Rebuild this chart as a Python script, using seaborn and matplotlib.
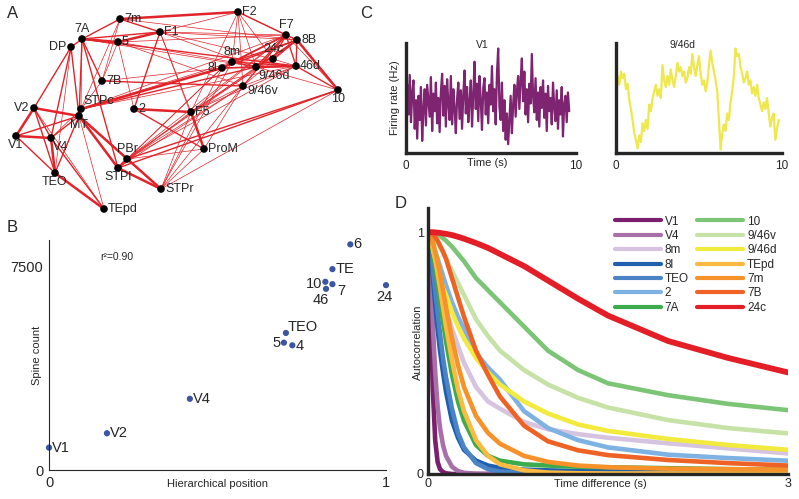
import numpy as np
import pandas as pd
import matplotlib
matplotlib.use('Agg')
import matplotlib.pyplot as plt
import seaborn as sns

sns.set_style('white')
plt.rcParams['font.family'] = ['Liberation Sans', 'DejaVu Sans']

W, H = 799, 499

# ---------------- Panel A: network (node layout in pixel space)
NODES = {
    '7m': (120, 19), 'F2': (238, 12), '7A': (82, 39), 'DP': (71, 47), '5': (118, 42),
    'F1': (160, 32), 'F7': (286, 35), '8B': (297, 40), '8m': (232, 62), '24c': (273, 59),
    '8l': (222, 68), '9/46d': (256, 67), '46d': (296, 66), '7B': (102, 81),
    '9/46v': (243, 86), '10': (338, 90), 'STPc': (81, 109), 'MT': (79, 116),
    '2': (134, 109), 'F5': (191, 112), 'V2': (34, 108), 'V1': (16, 136), 'V4': (51, 138),
    'PBr': (127, 159), 'ProM': (204, 149), 'STPl': (118, 168), 'TEO': (55, 173),
    'STPr': (161, 189), 'TEpd': (104, 209),
}
LABEL_POS = {
    '7m': 'r', 'F2': 'r', '7A': 'a', 'DP': 'l', '5': 'r', 'F1': 'r', 'F7': 'a', '8B': 'r',
    '8m': 'a', '24c': 'a', '8l': 'l', '9/46d': 'br', '46d': 'r', '7B': 'r', '9/46v': 'rb',
    '10': 'b', 'STPc': 'ar', 'MT': 'b', '2': 'r', 'F5': 'r', 'V2': 'l', 'V1': 'b',
    'V4': 'br', 'PBr': 'a', 'ProM': 'r', 'STPl': 'b', 'TEO': 'b', 'STPr': 'r', 'TEpd': 'r',
}
EDGES = [
    ('V1', 'V2', 3), ('V1', 'V4', 3), ('V1', 'TEO', 2), ('V1', 'MT', 2), ('V2', 'V4', 2),
    ('V2', 'MT', 3), ('V2', 'DP', 2), ('V2', 'TEO', 2), ('V2', 'TEpd', 1),
    ('V4', 'MT', 2), ('V4', 'DP', 2), ('V4', 'TEO', 3), ('V4', 'STPc', 1), ('V4', 'TEpd', 2),
    ('TEO', 'TEpd', 3), ('TEO', 'MT', 2), ('TEO', 'DP', 1),
    ('MT', 'TEpd', 1), ('MT', 'STPl', 3), ('MT', 'STPr', 3), ('MT', 'PBr', 2), ('MT', 'DP', 2),
    ('MT', '7A', 2), ('MT', 'STPc', 2),
    ('DP', '7A', 2), ('7A', '7m', 2), ('7A', '5', 3), ('7A', 'F1', 2), ('7A', '7B', 2),
    ('7A', 'STPc', 1), ('7A', 'STPl', 2), ('7A', '46d', 2), ('7A', '9/46d', 1),
    ('7m', 'F2', 3), ('7m', 'F1', 2), ('7m', '8B', 1), ('7m', '7B', 1), ('7m', 'STPc', 1),
    ('5', 'F1', 3), ('5', '2', 1), ('5', '7B', 1), ('5', '8m', 1), ('5', 'F7', 1), ('5', '9/46v', 1),
    ('F1', 'F2', 1), ('F1', '8B', 1), ('F1', 'F7', 1), ('F1', '2', 2), ('F1', 'F5', 1),
    ('F1', '24c', 1), ('F1', '9/46d', 1), ('F1', 'ProM', 1),
    ('F2', 'F7', 2), ('F2', '8B', 1), ('F2', '8m', 1), ('F2', '9/46d', 1), ('F2', '24c', 1),
    ('F2', 'F5', 1), ('F2', '9/46v', 1),
    ('7B', '9/46v', 2), ('7B', 'STPc', 1), ('7B', '8l', 1),
    ('STPc', '8l', 3), ('STPc', '9/46d', 2), ('STPc', '8m', 1), ('STPc', '46d', 1), ('STPc', 'F7', 1),
    ('2', 'F5', 3), ('2', 'ProM', 2),
    ('F5', 'ProM', 3), ('F5', '9/46v', 1), ('F5', 'F7', 1), ('F5', '24c', 1), ('F5', '8B', 1),
    ('F5', '46d', 1),
    ('8l', '8m', 2), ('8l', '9/46d', 2), ('8l', 'F7', 2), ('8l', '8B', 2), ('8l', '46d', 2),
    ('8l', 'PBr', 1), ('8l', 'STPl', 1),
    ('8m', 'F7', 2), ('8m', '8B', 2), ('8m', '24c', 1), ('8m', '46d', 2), ('8m', '9/46d', 2),
    ('8m', 'STPr', 1),
    ('9/46d', 'F7', 2), ('9/46d', '8B', 2), ('9/46d', '46d', 3), ('9/46d', '24c', 1),
    ('9/46d', '10', 1), ('9/46d', 'PBr', 1),
    ('24c', 'F7', 2), ('24c', '8B', 2), ('24c', '46d', 1),
    ('46d', '8B', 2), ('46d', 'F7', 2), ('46d', '10', 2), ('46d', '9/46v', 1),
    ('8B', '10', 3), ('F7', '10', 1), ('8B', 'F7', 2),
    ('9/46v', 'F7', 2), ('9/46v', '8B', 1), ('9/46v', 'PBr', 1), ('9/46v', 'STPr', 1),
    ('9/46v', 'ProM', 1),
    ('10', 'PBr', 2), ('10', 'STPl', 2), ('10', 'STPr', 1),
    ('PBr', 'STPl', 3), ('PBr', 'STPr', 2), ('PBr', '46d', 1), ('PBr', '8B', 1), ('PBr', 'F7', 1),
    ('PBr', 'ProM', 1),
    ('STPl', 'STPr', 3), ('STPl', '9/46v', 1), ('STPl', 'F5', 1),
    ('STPr', 'ProM', 1), ('STPr', 'F5', 1), ('STPr', '8l', 1),
]

# ---------------- Panel B: spine count vs hierarchy
b_areas = ['V1', 'V2', 'V4', '5', '4', 'TEO', '46', '10', '7', 'TE', '6', '24']
b_hier = [0.0, 0.172, 0.418, 0.697, 0.722, 0.703, 0.822, 0.820, 0.841, 0.841, 0.894, 1.0]
b_spines = [824, 1352, 2619, 4684, 4586, 5041, 6664, 6922, 6836, 7389, 8299, 6799]

# ---------------- Panel C: firing-rate traces (normalised)
v1_rate = [0.45, 0.62, 0.35, 0.71, 0.28, 0.55, 0.66, 0.22, 0.48, 0.13, 0.52, 0.30, 0.60, 0.11,
           0.40, 0.58, 0.25, 0.62, 0.47, 0.33, 0.69, 0.20, 0.54, 0.38, 0.64, 0.27, 0.50, 0.19,
           0.56, 0.72, 0.34, 0.61, 0.24, 0.67, 0.45, 0.30, 0.70, 0.26, 0.58, 0.41, 0.18,
           0.49, 0.64, 0.31, 0.57, 0.22, 0.53, 0.75, 0.36, 0.60, 0.28, 0.46, 0.66, 0.24, 0.52,
           0.83, 0.40, 0.63, 0.29, 0.70, 0.48, 0.21, 0.59, 0.68, 0.35, 0.55, 0.27, 0.62, 0.44,
           0.79, 0.38, 0.58, 0.26, 0.72, 0.95, 0.42, 0.30, 0.64, 0.20, 0.48, 0.12, 0.36, 0.08,
           0.30, 0.52, 0.18, 0.44, 0.62, 0.33, 0.56, 0.70, 0.40, 0.66, 0.86, 0.47, 0.74, 0.35,
           0.58, 0.28, 0.63, 0.45, 0.90, 0.52, 0.37, 0.68, 0.30, 0.55, 0.24, 0.60, 0.41, 0.66,
           0.32, 0.54, 0.20, 0.61, 0.38, 0.50, 0.26, 0.64, 0.42, 0.29, 0.57, 0.22, 0.48, 0.35,
           0.60, 0.15, 0.44, 0.52, 0.28, 0.55, 0.38]
d946_rate = [0.60, 0.70, 0.62, 0.74, 0.68, 0.72, 0.58, 0.63, 0.48, 0.40,
             0.30, 0.18, 0.12, 0.04, 0.16, 0.10, 0.27, 0.20, 0.30, 0.22,
             0.44, 0.38, 0.50, 0.56, 0.62, 0.52, 0.58, 0.50, 0.80, 0.66,
             0.60, 0.70, 0.62, 0.76, 0.66, 0.60, 0.70, 0.82, 0.74, 0.78,
             0.70, 0.74, 0.64, 0.68, 0.78, 0.72, 0.90, 0.78, 0.70, 0.80,
             0.88, 0.72, 0.62, 0.66, 0.56, 0.64, 0.80, 0.93, 0.82, 0.74,
             0.66, 0.56, 0.30, 0.03, 0.18, 0.26, 0.20, 0.36, 0.30, 0.46,
             0.56, 0.70, 0.95, 0.88, 0.90, 0.78, 0.72, 0.64, 0.68, 0.74,
             0.62, 0.66, 0.54, 0.60, 0.52, 0.62, 0.50, 0.44, 0.38, 0.46,
             0.40, 0.50, 0.36, 0.24, 0.32, 0.36, 0.12, 0.22, 0.30]

# ---------------- Panel D: autocorrelation per area
t_grid = [0, 0.02, 0.04, 0.06, 0.08, 0.1, 0.125, 0.15, 0.2, 0.25, 0.3, 0.4, 0.5, 0.6,
          0.8, 1.0, 1.25, 1.5, 2.0, 2.5, 3.0]
ac_areas = ['V1', 'V4', '8m', '8l', 'TEO', '2', '7A', '10', '9/46v', '9/46d', 'TEpd', '7m', '7B', '24c']
ac_values = {
    'V1': [1, 0.75, 0.35, 0.14, 0.05, 0.02, 0.008, 0.003, 0, 0, 0, 0, 0, 0, 0, 0, 0, 0, 0, 0, 0],
    'V4': [1, 0.9, 0.62, 0.42, 0.28, 0.19, 0.12, 0.075, 0.03, 0.012, 0.005, 0.001, 0, 0, 0, 0, 0, 0, 0, 0, 0],
    '8m': [1, 0.96, 0.91, 0.86, 0.81, 0.77, 0.72, 0.68, 0.6, 0.53, 0.46, 0.36, 0.3, 0.27, 0.215, 0.185,
           0.165, 0.15, 0.127, 0.106, 0.085],
    '8l': [1, 0.93, 0.82, 0.7, 0.6, 0.51, 0.42, 0.34, 0.22, 0.15, 0.1, 0.055, 0.035, 0.025, 0.018, 0.015,
           0.012, 0.011, 0.01, 0.009, 0.008],
    'TEO': [1, 0.94, 0.85, 0.76, 0.67, 0.58, 0.48, 0.4, 0.27, 0.17, 0.11, 0.045, 0.02, 0.01, 0.004, 0.002,
            0.002, 0.002, 0.002, 0.002, 0.002],
    '2': [1, 0.98, 0.95, 0.92, 0.89, 0.86, 0.82, 0.78, 0.71, 0.65, 0.6, 0.5, 0.44, 0.39, 0.26, 0.19,
          0.14, 0.11, 0.08, 0.066, 0.055],
    '7A': [1, 0.97, 0.92, 0.86, 0.79, 0.72, 0.63, 0.55, 0.41, 0.3, 0.22, 0.12, 0.075, 0.055, 0.04, 0.035,
           0.03, 0.028, 0.024, 0.02, 0.018],
    '10': [1, 1.0, 0.998, 0.995, 0.99, 0.985, 0.975, 0.965, 0.94, 0.91, 0.88, 0.81, 0.76, 0.71, 0.61, 0.51,
           0.43, 0.375, 0.326, 0.29, 0.264],
    '9/46v': [1, 0.995, 0.985, 0.97, 0.955, 0.94, 0.915, 0.89, 0.84, 0.79, 0.74, 0.64, 0.57, 0.51, 0.43,
              0.37, 0.315, 0.275, 0.223, 0.19, 0.168],
    '9/46d': [1, 0.97, 0.93, 0.89, 0.85, 0.81, 0.77, 0.74, 0.67, 0.61, 0.56, 0.48, 0.42, 0.37, 0.3, 0.25,
              0.205, 0.178, 0.145, 0.12, 0.1],
    'TEpd': [1, 0.98, 0.94, 0.89, 0.83, 0.77, 0.69, 0.61, 0.47, 0.35, 0.26, 0.14, 0.075, 0.04, 0.015, 0.006,
             0.003, 0.002, 0.002, 0.002, 0.002],
    '7m': [1, 0.99, 0.96, 0.92, 0.88, 0.83, 0.76, 0.69, 0.56, 0.45, 0.36, 0.24, 0.17, 0.125, 0.075, 0.05,
           0.035, 0.028, 0.022, 0.02, 0.018],
    '7B': [1, 1.0, 0.99, 0.98, 0.965, 0.945, 0.92, 0.89, 0.81, 0.73, 0.65, 0.51, 0.41, 0.32, 0.2, 0.135,
           0.098, 0.078, 0.058, 0.045, 0.035],
    '24c': [1, 1.0, 1.0, 0.999, 0.998, 0.997, 0.995, 0.993, 0.988, 0.981, 0.973, 0.955, 0.935, 0.91, 0.86,
            0.8, 0.725, 0.655, 0.55, 0.48, 0.42],
}
ac_colors = {
    'V1': '#7B1F6E', 'V4': '#A870A8', '8m': '#D6C3E0', '8l': '#1F5FAD', 'TEO': '#4A84C6',
    '2': '#7EB2E2', '7A': '#3CAB4B', '10': '#7CC576', '9/46v': '#C6E2A6', '9/46d': '#F2EA3D',
    'TEpd': '#FBBA42', '7m': '#F7922A', '7B': '#EE6325', '24c': '#E41E26',
}

fig = plt.figure(figsize=(W / 100, H / 100), dpi=100)


def px_axes(x0, y0, x1, y1):
    # axes box given in pixel coords (top-left origin)
    return fig.add_axes([x0 / W, 1 - y1 / H, (x1 - x0) / W, (y1 - y0) / H])


# ---- A
ax = px_axes(0, 0, 400, 230)
ax.set_xlim(0, 400)
ax.set_ylim(230, 0)
ax.axis('off')
widths = {1: 0.5, 2: 1.0, 3: 1.8}
for a, b, w in EDGES:
    (x0, y0), (x1, y1) = NODES[a], NODES[b]
    ax.plot([x0, x1], [y0, y1], color='#E2242A', lw=widths[w], solid_capstyle='round', zorder=1)
node_df = pd.DataFrame([(k, v[0], v[1]) for k, v in NODES.items()], columns=['area', 'x', 'y'])
sns.scatterplot(data=node_df, x='x', y='y', color='black', s=30, edgecolor='none', ax=ax, zorder=3)
ax.set_xlabel('')
ax.set_ylabel('')
place = {'r': (4, 0, 'left', 'center'), 'l': (-5, 0, 'right', 'center'),
         'a': (0, -4, 'center', 'bottom'), 'b': (0, 3, 'center', 'top'),
         'br': (2, 3, 'left', 'top'), 'ar': (2, -2, 'left', 'bottom'),
         'rb': (4, 5, 'left', 'center')}
for name, (x, y) in NODES.items():
    dx, dy, ha, va = place[LABEL_POS[name]]
    ax.text(x + dx, y + dy, name, ha=ha, va=va, fontsize=9, zorder=4)

# ---- B
ax = px_axes(49, 240, 386, 470)
sns.scatterplot(x=b_hier, y=b_spines, color='#3A55A4', s=20, edgecolor='none', ax=ax, clip_on=False)
ax.set_xlim(0, 1)
ax.set_ylim(0, 8460)
sns.despine(ax=ax)
for s in ['left', 'bottom']:
    ax.spines[s].set_linewidth(0.8)
ax.set_xticks([0, 0.2, 0.4, 0.6, 0.8, 1.0])
ax.set_xticklabels(['0', '', '', '', '', '1'])
ax.set_yticks([0, 2500, 5000, 7500])
ax.set_yticklabels(['0', '', '', '7500'])
ax.tick_params(direction='in', length=3, width=0.8, labelsize=10.5, pad=4)
ax.text(0.5, -0.062, 'Hierarchical position', transform=ax.transAxes, fontsize=8,
        ha='center', va='center')
ax.text(-0.036, 0.5, 'Spine count', transform=ax.transAxes, fontsize=8, rotation=90,
        ha='center', va='center')
offsets = {'V1': (3, 0, 'left'), 'V2': (3, 0, 'left'), 'V4': (3, 0, 'left'), '5': (-3, 0, 'right'),
           '4': (3, -1, 'left'), 'TEO': (2, 6, 'left'), '46': (-5, -11, 'center'), '10': (-3, -2, 'right'),
           '7': (9, -7, 'center'), 'TE': (3, 0, 'left'), '6': (3, 0, 'left'), '24': (-2, -12, 'center')}
for name, x, y in zip(b_areas, b_hier, b_spines):
    dx, dy, ha = offsets[name]
    ax.annotate(name, (x, y), xytext=(dx, dy), textcoords='offset pixels', ha=ha, va='center',
                fontsize=10.5)
ax.text(0.151, 0.926, 'r²=0.90', transform=ax.transAxes, fontsize=7.5, ha='left', va='center')

# ---- C
for (x0, x1), rate, col, title, tx in [((406, 576), v1_rate, '#7E2471', 'V1', 0.447),
                                         ((616, 782), d946_rate, '#EEE84C', '9/46d', 0.40)]:
    ax = px_axes(x0, 43, x1, 153)
    t = np.linspace(0, 9.6 if title == 'V1' else 9.8, len(rate))
    sns.lineplot(x=t, y=rate, color=col, lw=1.6, ax=ax, estimator=None, sort=False)
    ax.set_xlim(0, 10)
    ax.set_ylim(0, 1)
    sns.despine(ax=ax)
    for s in ['left', 'bottom']:
        ax.spines[s].set_linewidth(2.4)
    ax.set_xticks([0, 10])
    ax.set_xticklabels(['0', '10'])
    ax.set_yticks([])
    ax.tick_params(length=0, labelsize=8.5, pad=5)
    ax.text(tx, 0.98, title, transform=ax.transAxes, fontsize=7.5, ha='center', va='center')
    if title == 'V1':
        ax.text(0.48, -0.09, 'Time (s)', transform=ax.transAxes, fontsize=8, ha='center', va='center')
        ax.text(-0.065, 0.5, 'Firing rate (Hz)', transform=ax.transAxes, fontsize=8,
                rotation=90, ha='center', va='center')

# ---- D
ax = px_axes(428, 208, 788, 474)
for area in ac_areas:
    sns.lineplot(x=t_grid, y=ac_values[area], color=ac_colors[area], ax=ax,
                 lw=4.2 if area == '24c' else 3.3, label=area, estimator=None, sort=False)
ax.set_xlim(0, 3)
ax.set_ylim(0, 1.1)
sns.despine(ax=ax)
for s in ['left', 'bottom']:
    ax.spines[s].set_linewidth(2.4)
    ax.spines[s].set_zorder(5)
ax.set_xticks([0, 3])
ax.set_xticklabels(['0', '3'])
ax.set_yticks([0, 1])
ax.set_yticklabels(['0', '1'])
ax.tick_params(direction='in', length=4, width=1.5, labelsize=9, pad=3)
ax.text(0.478, -0.038, 'Time difference (s)', transform=ax.transAxes, fontsize=8, ha='center', va='center')
ax.text(-0.028, 0.496, 'Autocorrelation', transform=ax.transAxes, fontsize=8, rotation=90,
        ha='center', va='center')
leg = ax.legend(ncol=2, frameon=False, fontsize=8.5, handlelength=3.9, handletextpad=0.35,
                columnspacing=0.7, labelspacing=0.2, loc='upper left',
                bbox_to_anchor=(604 / W, 1 - 205 / H), bbox_transform=fig.transFigure)
for ln in leg.get_lines():
    ln.set_linewidth(3.0)

# ---- panel letters
for letter, (x, y) in {'A': (13, 14), 'B': (12, 228), 'C': (366, 14), 'D': (401, 204)}.items():
    fig.text(x / W, 1 - y / H, letter, fontsize=12, ha='center', va='center')

fig.savefig('out.png', dpi=100)
